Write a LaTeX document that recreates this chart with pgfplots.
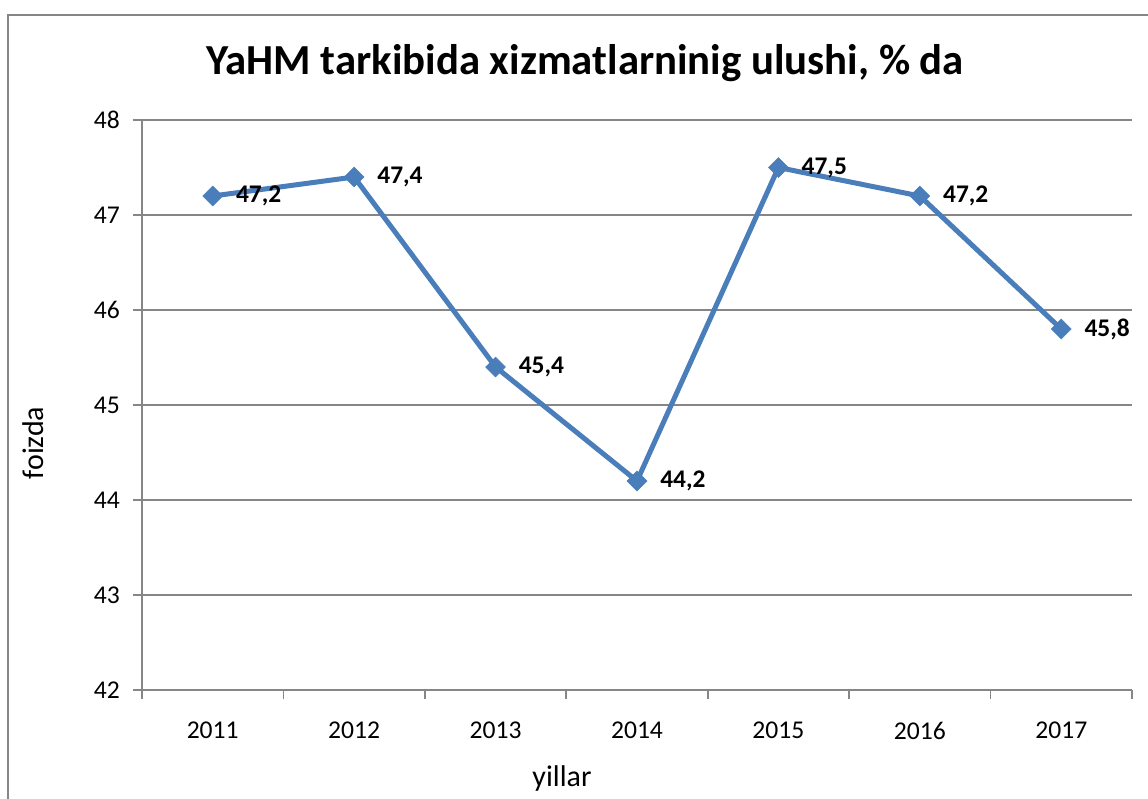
\documentclass[border=0pt]{standalone}
\usepackage{pgfplots}
\pgfplotsset{compat=1.18}
\usepackage{fontspec}
\setmainfont{Carlito}
\definecolor{exblue}{HTML}{4A7EBB}
\definecolor{exgrid}{HTML}{868686}
\begin{document}
\begin{tikzpicture}
\useasboundingbox (0,0) rectangle (574pt,399.5pt);
\draw[exgrid, line width=0.8pt] (4pt,-5pt) -- (4pt,392pt) -- (580pt,392pt);
\begin{axis}[
  at={(71pt,54.5pt)}, anchor=south west,
  scale only axis, width=495pt, height=285pt,
  xmin=-0.5, xmax=6.5, ymin=42, ymax=48,
  xtick={0,...,6},
  xticklabels={2011,2012,2013,2014,2015,2016,2017},
  minor xtick={-0.5,0.5,...,6.5},
  ytick={42,...,48},
  axis x line*=bottom, axis y line*=left,
  axis line style={draw=exgrid, line width=0.8pt, -},
  tick align=outside,
  major x tick style={draw=none},
  minor tick length=4.5pt, major tick length=4.5pt,
  every tick/.style={exgrid, line width=0.8pt},
  ymajorgrids, grid style={exgrid, line width=0.8pt},
  tick label style={font=\fontsize{12.8}{15}\selectfont},
  /pgf/number format/assume math mode=true,
  yticklabel style={xshift=-3pt},
  xticklabel style={yshift=-8pt},
  clip=false,
]
\addplot[exblue, line width=2.5pt, mark=square*, mark size=3.5pt,
  mark options={rotate=45, solid, line width=0.3pt, fill=exblue},
  nodes near coords,
  every node near coord/.append style={anchor=west, xshift=10.5pt, inner sep=1pt, text=black,
     font=\bfseries\fontsize{12.7}{15}\selectfont,
     /pgf/number format/.cd, fixed, fixed zerofill, precision=1, use comma, assume math mode=true},
] coordinates {
(0,47.2) (1,47.4) (2,45.4) (3,44.2) (4,47.5) (5,47.2) (6,45.8)
};
\end{axis}
\node[font=\bfseries\fontsize{21.4}{25}\selectfont] at (292.5pt,368pt) {YaHM tarkibida xizmatlarninig ulushi, \% da};
\node[font=\fontsize{15}{18}\selectfont] at (281pt,10pt) {yillar};
\node[font=\fontsize{15}{18}\selectfont, rotate=90] at (16.5pt,178pt) {foizda};
\end{tikzpicture}
\end{document}
